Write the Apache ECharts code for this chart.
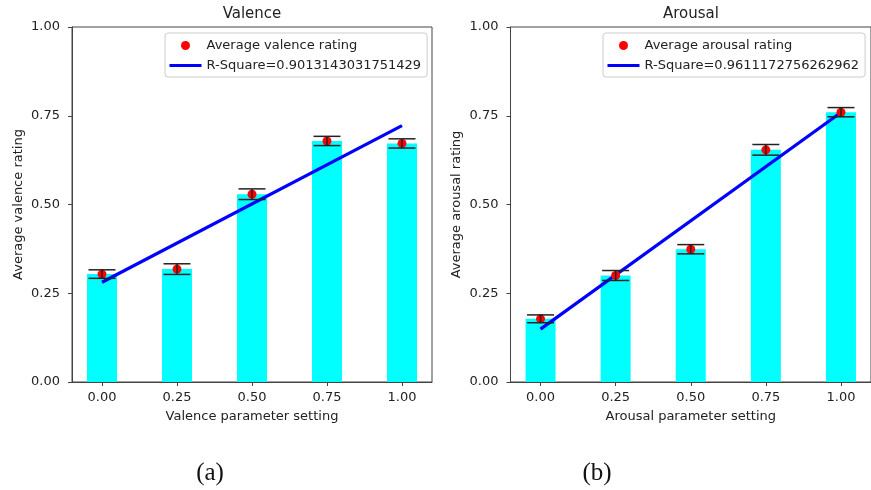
<!DOCTYPE html>
<html>
<head>
<meta charset="utf-8">
<script src="https://cdn.jsdelivr.net/npm/echarts@6/dist/echarts.min.js"></script>
<style>
html,body{margin:0;padding:0;background:#fff;}
#main{width:871px;height:490px;}
</style>
</head>
<body>
<div id="main"></div>
<script>
// ---- data ----
var settings = [0, 0.25, 0.5, 0.75, 1.0];
var xTicks = [0, 0.25, 0.5, 0.75, 1.0];
var yTicks = [0, 0.25, 0.5, 0.75, 1.0];

var valenceMean = [0.304, 0.318, 0.529, 0.679, 0.672];
var valenceErr  = [0.012, 0.015, 0.015, 0.013, 0.013];
var valenceFit  = [[0, 0.281], [1, 0.722]];
var valenceR2Label = 'R-Square=0.9013143031751429';
var valenceDotLabel = 'Average valence rating';

var arousalMean = [0.178, 0.300, 0.374, 0.654, 0.760];
var arousalErr  = [0.011, 0.014, 0.013, 0.015, 0.013];
var arousalFit  = [[0, 0.149], [1, 0.759]];
var arousalR2Label = 'R-Square=0.9611172756262962';
var arousalDotLabel = 'Average arousal rating';

var FONT = 'DejaVu Sans';
var FS = 13;

function pairs(xs, ys){ return xs.map(function(x,i){ return [x, ys[i]]; }); }
function triples(xs, ys, es){ return xs.map(function(x,i){ return [x, ys[i], es[i]]; }); }

function errRender(params, api){
  var x = api.value(0), y = api.value(1), e = api.value(2);
  var top = api.coord([x, y + e]);
  var bot = api.coord([x, y - e]);
  var hw = 13.5;
  var st = {stroke:'#222', lineWidth:1.5};
  return {type:'group', children:[
    {type:'line', shape:{x1:top[0], y1:top[1], x2:bot[0], y2:bot[1]}, style:st},
    {type:'line', shape:{x1:top[0]-hw, y1:top[1], x2:top[0]+hw, y2:top[1]}, style:st},
    {type:'line', shape:{x1:bot[0]-hw, y1:bot[1], x2:bot[0]+hw, y2:bot[1]}, style:st}
  ]};
}

function xAxis(idx, name){
  return {
    type:'value', gridIndex:idx, min:-0.1, max:1.1,
    name:name, nameLocation:'middle', nameGap:28,
    nameTextStyle:{fontFamily:FONT, fontSize:FS, color:'#222'},
    splitLine:{show:false},
    axisLine:{show:true, onZero:false, lineStyle:{color:'#444', width:1}},
    axisTick:{show:true, length:4, lineStyle:{color:'#444'}, customValues:xTicks},
    axisLabel:{fontFamily:FONT, fontSize:FS, color:'#222', margin:9, customValues:xTicks,
      formatter:function(v){ return v.toFixed(2); }}
  };
}
function yAxis(idx, name){
  return {
    type:'value', gridIndex:idx, min:0, max:1, interval:0.25,
    name:name, nameLocation:'middle', nameGap:47,
    nameTextStyle:{fontFamily:FONT, fontSize:FS, color:'#222'},
    splitLine:{show:false},
    axisLine:{show:true, onZero:false, lineStyle:{color:'#444', width:1}},
    axisTick:{show:true, length:4, lineStyle:{color:'#444'}},
    axisLabel:{fontFamily:FONT, fontSize:FS, color:'#222', margin:12,
      formatter:function(v){ return v.toFixed(2); }}
  };
}

function seriesFor(idx, means, errs, fit, dotName, lineName){
  return [
    {type:'bar', xAxisIndex:idx, yAxisIndex:idx, data:pairs(settings, means),
     barWidth:30, itemStyle:{color:'#00ffff'}, z:1, silent:true},
    {type:'line', name:lineName, xAxisIndex:idx, yAxisIndex:idx, data:fit,
     symbol:'none', showSymbol:false, lineStyle:{color:'#0000ff', width:3.2},
     itemStyle:{color:'#0000ff'}, z:3},
    {type:'scatter', name:dotName, xAxisIndex:idx, yAxisIndex:idx, data:pairs(settings, means),
     symbol:'circle', symbolSize:9, itemStyle:{color:'#ff0000', opacity:1}, z:4},
    {type:'custom', xAxisIndex:idx, yAxisIndex:idx, data:triples(settings, means, errs),
     renderItem:errRender, z:5, silent:true}
  ];
}

function legendFor(left, dotName, lineName){
  return {
    left:left, top:33, orient:'vertical',
    data:[
      {name:dotName, icon:'circle', itemStyle:{color:'#ff0000', opacity:1}},
      {name:lineName, itemStyle:{opacity:0}, lineStyle:{color:'#0000ff', width:3}}
    ],
    itemWidth:32, itemHeight:9, itemGap:5,
    padding:[5,6,4,3],
    borderColor:'#cccccc', borderWidth:1, borderRadius:3,
    backgroundColor:'rgba(255,255,255,0.8)',
    textStyle:{fontFamily:FONT, fontSize:FS, color:'#222', lineHeight:15},
    selectedMode:false
  };
}

var chart = echarts.init(document.getElementById('main'), null, {renderer:'canvas'});
chart.setOption({
  animation:false,
  backgroundColor:'#ffffff',
  title:[
    {text:'Valence', left:252, top:7, textAlign:'center', padding:0,
     textStyle:{fontFamily:FONT, fontSize:15, fontWeight:'normal', color:'#222'}},
    {text:'Arousal', left:691, top:7, textAlign:'center', padding:0,
     textStyle:{fontFamily:FONT, fontSize:15, fontWeight:'normal', color:'#222'}},
    {text:'(a)', left:210, top:461, textAlign:'center', padding:0,
     textStyle:{fontFamily:'Liberation Serif', fontSize:25, fontWeight:'normal', color:'#111'}},
    {text:'(b)', left:597, top:461, textAlign:'center', padding:0,
     textStyle:{fontFamily:'Liberation Serif', fontSize:25, fontWeight:'normal', color:'#111'}}
  ],
  legend:[
    legendFor(165, valenceDotLabel, valenceR2Label),
    legendFor(603, arousalDotLabel, arousalR2Label)
  ],
  grid:[
    {left:72, top:27, width:360, height:355, show:true, borderColor:'#444', borderWidth:1, backgroundColor:'transparent'},
    {left:510.5, top:27, width:361, height:355, show:true, borderColor:'#444', borderWidth:1, backgroundColor:'transparent'}
  ],
  xAxis:[xAxis(0, 'Valence parameter setting'), xAxis(1, 'Arousal parameter setting')],
  yAxis:[yAxis(0, 'Average valence rating'), yAxis(1, 'Average arousal rating')],
  series:[].concat(
    seriesFor(0, valenceMean, valenceErr, valenceFit, valenceDotLabel, valenceR2Label),
    seriesFor(1, arousalMean, arousalErr, arousalFit, arousalDotLabel, arousalR2Label)
  )
});
</script>
</body>
</html>
